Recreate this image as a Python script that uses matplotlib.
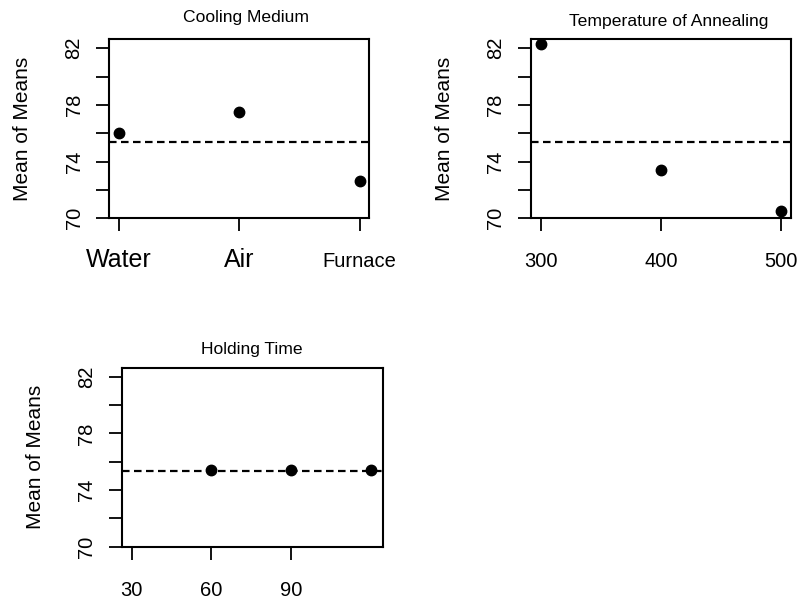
import matplotlib
matplotlib.use("Agg")
import matplotlib.pyplot as plt

plt.rcParams['font.family'] = ['Liberation Sans', 'DejaVu Sans']

# Data
cooling_labels = ["Water", "Air", "Furnace"]
cooling_means = [76.0, 77.5, 72.6]

temp_levels = [300, 400, 500]
temp_means = [82.3, 73.4, 70.5]

holding_levels = [60, 90, 120]
holding_means = [75.4, 75.4, 75.4]
holding_ticks = [30, 60, 90]

grand_mean = 75.37
y_ticks = [70, 72, 74, 76, 78, 80, 82]
y_labels = ["70", "", "74", "", "78", "", "82"]

fig = plt.figure(figsize=(7.99, 6.03), dpi=100)

W, H = 799, 603


def make_axes(left, top, right, bottom):
    return fig.add_axes([left / W, 1 - bottom / H, (right - left) / W, (bottom - top) / H])


def style(ax, title, title_x, title_dy):
    ax.set_ylim(70, 82.65)
    ax.set_yticks(y_ticks)
    ax.set_yticklabels(y_labels, rotation=90, va='center', fontsize=14.5)
    ax.tick_params(axis='both', direction='out', length=9.3, width=1.3, color='black')
    ax.tick_params(axis='y', pad=9)
    ax.tick_params(axis='x', pad=26, labelsize=14.5)
    for lbl in ax.get_xticklabels():
        lbl.set_va('baseline')
    for s in ax.spines.values():
        s.set_linewidth(1.5)
    ax.axhline(grand_mean, color='black', lw=1.6, ls=(0, (3.4, 2.0)), zorder=1)
    ax.text(title_x, 1.0 + title_dy / 180, title, transform=ax.transAxes,
            ha='center', va='center', fontsize=12.6)
    ax.text(-86 / 260, 0.5, "Mean of Means", transform=ax.transAxes,
            ha='center', va='center', rotation=90, fontsize=15)


# Cooling Medium
ax1 = make_axes(109, 39, 369, 218.3)
x1 = [1, 2, 3]
ax1.plot(x1, cooling_means, 'o', color='black', ms=7.5, zorder=3)
ax1.set_xlim(0.917, 3.078)
ax1.set_xticks(x1)
ax1.set_xticklabels(cooling_labels)
style(ax1, "Cooling Medium", 0.526, 22)
tl = ax1.get_xticklabels()
tl[0].set_fontsize(18)
tl[1].set_fontsize(18)
tl[2].set_fontsize(14.5)

# Temperature of Annealing
ax2 = make_axes(530.7, 39, 790.7, 218.3)
ax2.plot(temp_levels, temp_means, 'o', color='black', ms=7.5, zorder=3)
ax2.set_xlim(291.7, 508.1)
ax2.set_xticks(temp_levels)
style(ax2, "Temperature of Annealing", 0.529, 17.5)

# Holding Time
ax3 = make_axes(121.7, 367.7, 382.7, 546.7)
ax3.plot(holding_levels, holding_means, 'o', color='black', ms=7.5, zorder=3)
ax3.set_xlim(26.25, 124.4)
ax3.set_xticks(holding_ticks)
style(ax3, "Holding Time", 0.5, 18.7)

fig.savefig("out.png", dpi=100)
